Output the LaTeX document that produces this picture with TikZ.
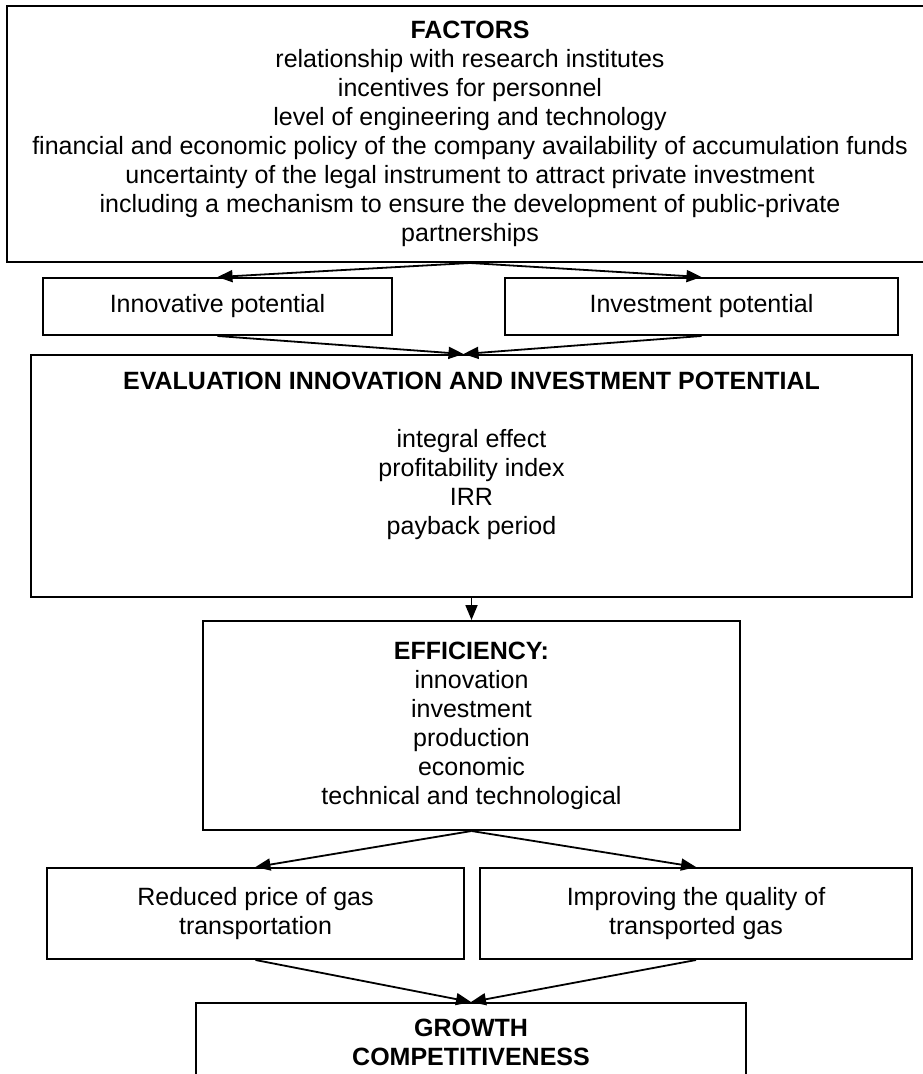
\documentclass[tikz,border=0pt]{standalone}
\usepackage{fontspec}
\setmainfont{Liberation Sans}
\usetikzlibrary{arrows.meta}

\tikzset{
  box/.style={draw, line width=1pt, align=center, inner sep=0pt,
    font=\fontsize{12.5}{14.5}\selectfont},
  arr/.style={-{Triangle[length=7.5pt,width=6pt]}, line width=0.9pt},
}

\begin{document}
\begin{tikzpicture}[x=0.5pt, y=-0.5pt]
\useasboundingbox (0,0) rectangle (922,1074);

\node[box, minimum width=463pt, minimum height=128pt] (factors) at (470,134)
  {\textbf{FACTORS}\\
   relationship with research institutes\\
   incentives for personnel\\
   level of engineering and technology\\
   financial and economic policy of the company availability of accumulation funds\\
   uncertainty of the legal instrument to attract private investment\\
   including a mechanism to ensure the development of public-private\\
   partnerships};

\node[box, minimum width=174.5pt, minimum height=28.5pt] (innov) at (217.5,306.5) {Innovative potential};
\node[box, minimum width=196.5pt, minimum height=28.5pt] (invest) at (701.5,306.5) {Investment potential};

\node[box, minimum width=440.5pt, minimum height=121pt] (eval) at (471.5,476)
  {\textbf{EVALUATION INNOVATION AND INVESTMENT POTENTIAL}\\
   \mbox{}\\
   integral effect\\
   profitability index\\
   IRR\\
   payback period\\[8pt]
   \mbox{}};

\node[box, minimum width=268.5pt, minimum height=104.5pt] (eff) at (471.5,725.5)
  {\textbf{EFFICIENCY:}\\
   innovation\\
   investment\\
   production\\
   economic\\
   technical and technological};

\node[box, minimum width=208.5pt, minimum height=45.5pt] (price) at (255.5,913.5)
  {Reduced price of gas\\ transportation};
\node[box, minimum width=216pt, minimum height=45.5pt] (quality) at (696,913.5)
  {Improving the quality of\\ transported gas};

\node[box, minimum width=275pt, minimum height=39.5pt] (growth) at (471,1042.5)
  {\textbf{GROWTH}\\ \textbf{COMPETITIVENESS}};

% connectors
\draw[arr] (factors.south) -- (innov.north);
\draw[arr] (factors.south) -- (invest.north);
\draw[arr] (innov.south) -- ([xshift=-4pt]eval.north);
\draw[arr] (invest.south) -- ([xshift=-4pt]eval.north);
\draw[arr] (eval.south) -- (eff.north);
\draw[arr] (eff.south) -- (price.north);
\draw[arr] (eff.south) -- (quality.north);
\draw[arr] (price.south) -- (growth.north);
\draw[arr] (quality.south) -- (growth.north);
\end{tikzpicture}
\end{document}
